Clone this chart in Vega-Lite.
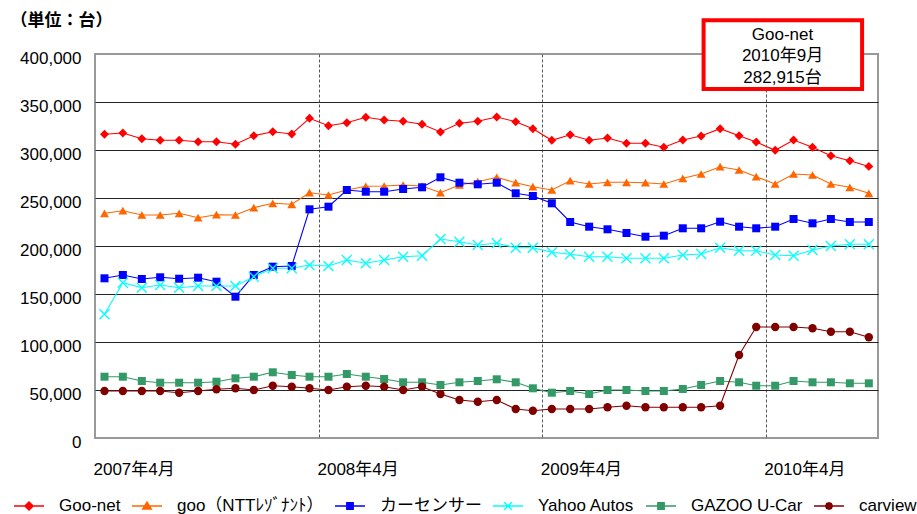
{
  "$schema": "https://vega.github.io/schema/vega-lite/v6.json",
  "width": 783,
  "height": 384,
  "autosize": {"type": "none"},
  "padding": {"left": 95, "top": 54, "right": 39, "bottom": 76},
  "background": "white",
  "config": {
    "font": "Liberation Sans, Noto Sans CJK JP",
    "view": {"stroke": "#999999", "strokeWidth": 2}
  },
  "datasets": {
    "monthly": [
      {"month": "2007-04", "Goo-net": 316354, "goo（NTTﾚｿﾞﾅﾝﾄ）": 234063, "カーセンサー": 166354, "Yahoo Autos": 128854, "GAZOO U-Car": 63854, "carview": 48958},
      {"month": "2007-05", "Goo-net": 317708, "goo（NTTﾚｿﾞﾅﾝﾄ）": 236771, "カーセンサー": 169792, "Yahoo Autos": 161771, "GAZOO U-Car": 63854, "carview": 48958},
      {"month": "2007-06", "Goo-net": 311771, "goo（NTTﾚｿﾞﾅﾝﾄ）": 232292, "カーセンサー": 165625, "Yahoo Autos": 156563, "GAZOO U-Car": 59375, "carview": 48958},
      {"month": "2007-07", "Goo-net": 310104, "goo（NTTﾚｿﾞﾅﾝﾄ）": 232292, "カーセンサー": 167396, "Yahoo Autos": 159375, "GAZOO U-Car": 57604, "carview": 48958},
      {"month": "2007-08", "Goo-net": 310104, "goo（NTTﾚｿﾞﾅﾝﾄ）": 234063, "カーセンサー": 165938, "Yahoo Autos": 156563, "GAZOO U-Car": 57604, "carview": 47188},
      {"month": "2007-09", "Goo-net": 308646, "goo（NTTﾚｿﾞﾅﾝﾄ）": 229479, "カーセンサー": 166979, "Yahoo Autos": 158333, "GAZOO U-Car": 57604, "carview": 48958},
      {"month": "2007-10", "Goo-net": 308646, "goo（NTTﾚｿﾞﾅﾝﾄ）": 232604, "カーセンサー": 162813, "Yahoo Autos": 158333, "GAZOO U-Car": 58646, "carview": 50729},
      {"month": "2007-11", "Goo-net": 305938, "goo（NTTﾚｿﾞﾅﾝﾄ）": 232292, "カーセンサー": 147188, "Yahoo Autos": 158333, "GAZOO U-Car": 62188, "carview": 51771},
      {"month": "2007-12", "Goo-net": 314896, "goo（NTTﾚｿﾞﾅﾝﾄ）": 239896, "カーセンサー": 169792, "Yahoo Autos": 168021, "GAZOO U-Car": 63854, "carview": 50000},
      {"month": "2008-01", "Goo-net": 319063, "goo（NTTﾚｿﾞﾅﾝﾄ）": 244479, "カーセンサー": 178438, "Yahoo Autos": 176771, "GAZOO U-Car": 68438, "carview": 54479},
      {"month": "2008-02", "Goo-net": 316667, "goo（NTTﾚｿﾞﾅﾝﾄ）": 243438, "カーセンサー": 179167, "Yahoo Autos": 176771, "GAZOO U-Car": 65625, "carview": 53438},
      {"month": "2008-03", "Goo-net": 333021, "goo（NTTﾚｿﾞﾅﾝﾄ）": 255521, "カーセンサー": 238229, "Yahoo Autos": 180208, "GAZOO U-Car": 63854, "carview": 51771},
      {"month": "2008-04", "Goo-net": 325313, "goo（NTTﾚｿﾞﾅﾝﾄ）": 253125, "カーセンサー": 240938, "Yahoo Autos": 179167, "GAZOO U-Car": 63854, "carview": 50000},
      {"month": "2008-05", "Goo-net": 328438, "goo（NTTﾚｿﾞﾅﾝﾄ）": 258333, "カーセンサー": 258333, "Yahoo Autos": 185417, "GAZOO U-Car": 66667, "carview": 53438},
      {"month": "2008-06", "Goo-net": 334063, "goo（NTTﾚｿﾞﾅﾝﾄ）": 262188, "カーセンサー": 256563, "Yahoo Autos": 181979, "GAZOO U-Car": 63854, "carview": 54479},
      {"month": "2008-07", "Goo-net": 331250, "goo（NTTﾚｿﾞﾅﾝﾄ）": 262500, "カーセンサー": 256563, "Yahoo Autos": 185417, "GAZOO U-Car": 61458, "carview": 53438},
      {"month": "2008-08", "Goo-net": 329896, "goo（NTTﾚｿﾞﾅﾝﾄ）": 263542, "カーセンサー": 259375, "Yahoo Autos": 188854, "GAZOO U-Car": 58021, "carview": 50000},
      {"month": "2008-09", "Goo-net": 326771, "goo（NTTﾚｿﾞﾅﾝﾄ）": 262500, "カーセンサー": 261146, "Yahoo Autos": 189896, "GAZOO U-Car": 58021, "carview": 53438},
      {"month": "2008-10", "Goo-net": 318750, "goo（NTTﾚｿﾞﾅﾝﾄ）": 255521, "カーセンサー": 271563, "Yahoo Autos": 207292, "GAZOO U-Car": 55208, "carview": 45833},
      {"month": "2008-11", "Goo-net": 327813, "goo（NTTﾚｿﾞﾅﾝﾄ）": 263542, "カーセンサー": 265938, "Yahoo Autos": 204479, "GAZOO U-Car": 58021, "carview": 39583},
      {"month": "2008-12", "Goo-net": 329896, "goo（NTTﾚｿﾞﾅﾝﾄ）": 266979, "カーセンサー": 264271, "Yahoo Autos": 201042, "GAZOO U-Car": 59375, "carview": 37813},
      {"month": "2009-01", "Goo-net": 334375, "goo（NTTﾚｿﾞﾅﾝﾄ）": 271563, "カーセンサー": 265938, "Yahoo Autos": 202813, "GAZOO U-Car": 61146, "carview": 39583},
      {"month": "2009-02", "Goo-net": 329479, "goo（NTTﾚｿﾞﾅﾝﾄ）": 265938, "カーセンサー": 254896, "Yahoo Autos": 198229, "GAZOO U-Car": 58021, "carview": 30208},
      {"month": "2009-03", "Goo-net": 322188, "goo（NTTﾚｿﾞﾅﾝﾄ）": 261771, "カーセンサー": 252083, "Yahoo Autos": 198229, "GAZOO U-Car": 51771, "carview": 28438},
      {"month": "2009-04", "Goo-net": 310104, "goo（NTTﾚｿﾞﾅﾝﾄ）": 258333, "カーセンサー": 244479, "Yahoo Autos": 193438, "GAZOO U-Car": 47188, "carview": 30208},
      {"month": "2009-05", "Goo-net": 315938, "goo（NTTﾚｿﾞﾅﾝﾄ）": 268021, "カーセンサー": 225000, "Yahoo Autos": 191354, "GAZOO U-Car": 48958, "carview": 30208},
      {"month": "2009-06", "Goo-net": 310104, "goo（NTTﾚｿﾞﾅﾝﾄ）": 264583, "カーセンサー": 220104, "Yahoo Autos": 188854, "GAZOO U-Car": 45833, "carview": 30208},
      {"month": "2009-07", "Goo-net": 312500, "goo（NTTﾚｿﾞﾅﾝﾄ）": 266354, "カーセンサー": 217396, "Yahoo Autos": 188854, "GAZOO U-Car": 50000, "carview": 31979},
      {"month": "2009-08", "Goo-net": 306979, "goo（NTTﾚｿﾞﾅﾝﾄ）": 266354, "カーセンサー": 213542, "Yahoo Autos": 187188, "GAZOO U-Car": 50000, "carview": 33646},
      {"month": "2009-09", "Goo-net": 306979, "goo（NTTﾚｿﾞﾅﾝﾄ）": 265938, "カーセンサー": 209688, "Yahoo Autos": 187188, "GAZOO U-Car": 48958, "carview": 31979},
      {"month": "2009-10", "Goo-net": 302813, "goo（NTTﾚｿﾞﾅﾝﾄ）": 264583, "カーセンサー": 210729, "Yahoo Autos": 187188, "GAZOO U-Car": 48958, "carview": 31979},
      {"month": "2009-11", "Goo-net": 310417, "goo（NTTﾚｿﾞﾅﾝﾄ）": 270521, "カーセンサー": 218438, "Yahoo Autos": 190625, "GAZOO U-Car": 51042, "carview": 31979},
      {"month": "2009-12", "Goo-net": 314583, "goo（NTTﾚｿﾞﾅﾝﾄ）": 275000, "カーセンサー": 218438, "Yahoo Autos": 191667, "GAZOO U-Car": 55208, "carview": 31979},
      {"month": "2010-01", "Goo-net": 322188, "goo（NTTﾚｿﾞﾅﾝﾄ）": 282604, "カーセンサー": 225313, "Yahoo Autos": 198229, "GAZOO U-Car": 59375, "carview": 33646},
      {"month": "2010-02", "Goo-net": 314896, "goo（NTTﾚｿﾞﾅﾝﾄ）": 279167, "カーセンサー": 220104, "Yahoo Autos": 195104, "GAZOO U-Car": 58021, "carview": 86458},
      {"month": "2010-03", "Goo-net": 308333, "goo（NTTﾚｿﾞﾅﾝﾄ）": 272188, "カーセンサー": 218438, "Yahoo Autos": 195104, "GAZOO U-Car": 54479, "carview": 115625},
      {"month": "2010-04", "Goo-net": 299688, "goo（NTTﾚｿﾞﾅﾝﾄ）": 264583, "カーセンサー": 220104, "Yahoo Autos": 190625, "GAZOO U-Car": 54479, "carview": 115625},
      {"month": "2010-05", "Goo-net": 310417, "goo（NTTﾚｿﾞﾅﾝﾄ）": 275000, "カーセンサー": 228125, "Yahoo Autos": 189896, "GAZOO U-Car": 59375, "carview": 115625},
      {"month": "2010-06", "Goo-net": 302813, "goo（NTTﾚｿﾞﾅﾝﾄ）": 273958, "カーセンサー": 223646, "Yahoo Autos": 195833, "GAZOO U-Car": 58021, "carview": 114271},
      {"month": "2010-07", "Goo-net": 294063, "goo（NTTﾚｿﾞﾅﾝﾄ）": 264583, "カーセンサー": 228125, "Yahoo Autos": 200000, "GAZOO U-Car": 58021, "carview": 110729},
      {"month": "2010-08", "Goo-net": 288854, "goo（NTTﾚｿﾞﾅﾝﾄ）": 261146, "カーセンサー": 225000, "Yahoo Autos": 201771, "GAZOO U-Car": 56979, "carview": 110729},
      {"month": "2010-09", "Goo-net": 282915, "goo（NTTﾚｿﾞﾅﾝﾄ）": 254896, "カーセンサー": 225000, "Yahoo Autos": 201771, "GAZOO U-Car": 56979, "carview": 104896}
    ]
  },
  "layer": [
    {
      "data": {"name": "monthly"},
      "transform": [
        {"fold": ["Goo-net", "goo（NTTﾚｿﾞﾅﾝﾄ）", "カーセンサー", "Yahoo Autos", "GAZOO U-Car", "carview"], "as": ["series", "value"]}
      ],
      "layer": [
        {
          "mark": {"type": "line", "strokeWidth": 1.1},
          "encoding": {
            "x": {
              "field": "month", "type": "temporal",
              "scale": {"type": "utc", "domain": [{"year": 2007, "month": 3, "date": 16, "hours": 12, "utc": true}, {"year": 2010, "month": 9, "date": 16, "utc": true}]},
              "axis": {
                "title": null,
                "values": [
                  {"year": 2007, "month": 3, "date": 16, "hours": 12, "utc": true},
                  {"year": 2008, "month": 3, "date": 16, "hours": 12, "utc": true},
                  {"year": 2009, "month": 3, "date": 16, "hours": 12, "utc": true},
                  {"year": 2010, "month": 3, "date": 16, "hours": 12, "utc": true}
                ],
                "labelExpr": "utcFormat(datum.value, '%Y') + '年4月'",
                "labelAlign": "left",
                "labelFlush": false,
                "labelOverlap": false,
                "labelFontSize": 17,
                "labelColor": "#000000",
                "labelPadding": 23,
                "labelOffset": -2,
                "ticks": false,
                "tickSize": 0,
                "domain": false,
                "grid": true,
                "gridDash": [3, 2],
                "gridColor": "#555555",
                "gridWidth": 1,
                "gridOpacity": {"condition": {"test": "utcyear(datum.value) === 2007", "value": 0}, "value": 1}
              }
            },
            "y": {
              "field": "value", "type": "quantitative",
              "scale": {"domain": [0, 400000], "nice": false},
              "axis": {
                "title": "（単位：台）",
                "titleAngle": 0,
                "titleAlign": "left",
                "titleBaseline": "middle",
                "titleX": -85,
                "titleY": -34,
                "titleFontSize": 17,
                "titleFontWeight": "bold",
                "titleColor": "#000000",
                "titleFont": "Noto Sans CJK JP",
                "values": [0, 50000, 100000, 150000, 200000, 250000, 300000, 350000, 400000],
                "format": ",.0f",
                "labelFontSize": 17,
                "labelColor": "#000000",
                "labelPadding": 14,
                "labelOffset": 4,
                "ticks": false,
                "tickSize": 0,
                "domain": false,
                "gridColor": {"condition": {"test": "datum.value === 0 || datum.value === 400000", "value": "transparent"}, "value": "#222222"},
                "gridWidth": 1
              }
            },
            "color": {
              "field": "series", "type": "nominal",
              "scale": {
                "domain": ["Goo-net", "goo（NTTﾚｿﾞﾅﾝﾄ）", "カーセンサー", "Yahoo Autos", "GAZOO U-Car", "carview"],
                "range": ["#ff0000", "#ff6600", "#0000ff", "#00ffff", "#339966", "#800000"]
              },
              "legend": {
                "title": null,
                "orient": "none",
                "direction": "horizontal",
                "legendX": -82,
                "legendY": 436,
                "symbolSize": 900,
                "symbolStrokeWidth": 1.5,
                "symbolOpacity": 1,
                "labelFontSize": 17,
                "labelColor": "#000000",
                "labelOffset": 14,
                "columnPadding": 8,
                "encode": {
                  "symbols": {
                    "update": {
                      "shape": {"signal": "datum.value === 'Goo-net' ? 'M-1,0H1M0,-0.27L0.27,0L0,0.27L-0.27,0Z' : datum.value === 'goo（NTTﾚｿﾞﾅﾝﾄ）' ? 'M-1,0H1M0,-0.26L0.28,0.2L-0.28,0.2Z' : datum.value === 'Yahoo Autos' ? 'M-1,0H1M-0.25,-0.25L0.25,0.25M-0.25,0.25L0.25,-0.25' : datum.value === 'carview' ? 'M-1,0H1M-0.22,0L-0.156,-0.156L0,-0.22L0.156,-0.156L0.22,0L0.156,0.156L0,0.22L-0.156,0.156Z' : 'M-1,0H1M-0.21,-0.21H0.21V0.21H-0.21Z'"},
                      "fill": {"signal": "scale('color', datum.value)"},
                      "stroke": {"signal": "scale('color', datum.value)"},
                      "strokeWidth": {"value": 1.5},
                      "opacity": {"value": 1},
                      "fillOpacity": {"value": 1},
                      "strokeOpacity": {"value": 1}
                    }
                  }
                }
              }
            }
          }
        },
        {
          "transform": [{"filter": {"field": "series", "equal": "Goo-net"}}],
          "mark": {"type": "point", "filled": true, "size": 80, "opacity": 1, "strokeWidth": 0, "shape": "diamond"},
          "encoding": {
            "x": {"field": "month", "type": "temporal"},
            "y": {"field": "value", "type": "quantitative"},
            "color": {"field": "series", "type": "nominal"}
          }
        },
        {
          "transform": [{"filter": {"field": "series", "equal": "goo（NTTﾚｿﾞﾅﾝﾄ）"}}],
          "mark": {"type": "point", "filled": true, "size": 80, "opacity": 1, "strokeWidth": 0, "shape": "triangle-up"},
          "encoding": {
            "x": {"field": "month", "type": "temporal"},
            "y": {"field": "value", "type": "quantitative"},
            "color": {"field": "series", "type": "nominal"}
          }
        },
        {
          "transform": [{"filter": {"field": "series", "oneOf": ["カーセンサー", "GAZOO U-Car"]}}],
          "mark": {"type": "point", "filled": true, "size": 64, "opacity": 1, "strokeWidth": 0, "shape": "square"},
          "encoding": {
            "x": {"field": "month", "type": "temporal"},
            "y": {"field": "value", "type": "quantitative"},
            "color": {"field": "series", "type": "nominal"}
          }
        },
        {
          "transform": [{"filter": {"field": "series", "equal": "carview"}}],
          "mark": {"type": "point", "filled": true, "size": 70, "opacity": 1, "strokeWidth": 0, "shape": "circle"},
          "encoding": {
            "x": {"field": "month", "type": "temporal"},
            "y": {"field": "value", "type": "quantitative"},
            "color": {"field": "series", "type": "nominal"}
          }
        },
        {
          "transform": [{"filter": {"field": "series", "equal": "Yahoo Autos"}}],
          "mark": {"type": "point", "filled": false, "size": 100, "opacity": 1, "strokeWidth": 1.3, "shape": "M-1,-1L1,1M-1,1L1,-1"},
          "encoding": {
            "x": {"field": "month", "type": "temporal"},
            "y": {"field": "value", "type": "quantitative"},
            "color": {"field": "series", "type": "nominal"}
          }
        }
      ]
    },
    {
      "data": {"values": [{"note": "Goo-net\n2010年9月\n282,915台"}]},
      "layer": [
        {
          "mark": {"type": "rect", "fill": "#ffffff", "stroke": "#ff0000", "strokeWidth": 4, "clip": false},
          "encoding": {
            "x": {"datum": {"year": 2009, "month": 12, "date": 5, "utc": true}, "type": "temporal"},
            "x2": {"datum": {"year": 2010, "month": 8, "date": 21, "utc": true}},
            "y": {"datum": 363542, "type": "quantitative"},
            "y2": {"datum": 435104}
          }
        },
        {
          "mark": {"type": "text", "align": "center", "baseline": "middle", "fontSize": 17, "lineHeight": 21.5, "lineBreak": "\n", "color": "#000000", "clip": false},
          "encoding": {
            "x": {"datum": {"year": 2010, "month": 4, "date": 13, "utc": true}, "type": "temporal"},
            "y": {"datum": 419792, "type": "quantitative"},
            "text": {"field": "note", "type": "nominal"}
          }
        }
      ]
    }
  ]
}
